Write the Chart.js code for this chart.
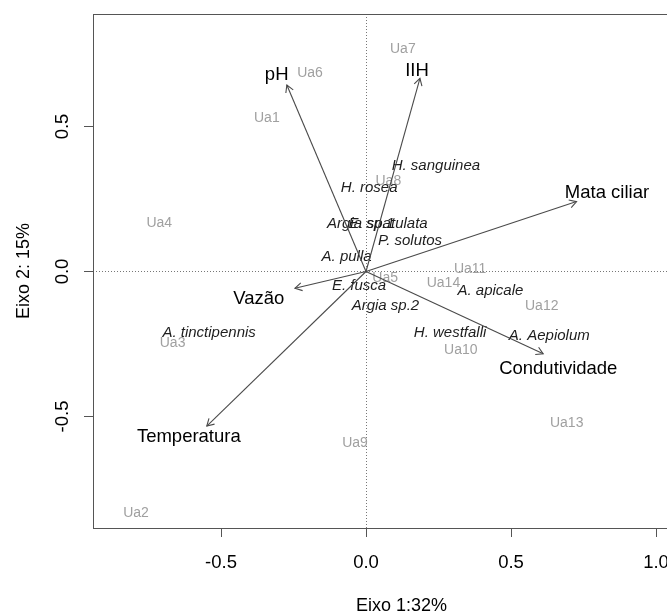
<!DOCTYPE html>
<html>
<head>
<meta charset="utf-8">
<script src="https://cdn.jsdelivr.net/npm/chart.js@4.4.1/dist/chart.umd.min.js"></script>
<style>
  html, body { margin: 0; padding: 0; overflow: hidden; background: #fff; }
</style>
</head>
<body>
<canvas id="rda" width="720" height="614"></canvas>
<script>
// Sites (Ua) scores
const siteLabels = ['Ua1', 'Ua2', 'Ua3', 'Ua4', 'Ua5', 'Ua6', 'Ua7', 'Ua8', 'Ua9', 'Ua10', 'Ua11', 'Ua12', 'Ua13', 'Ua14']
const siteX = [-0.342, -0.793, -0.667, -0.713, 0.066, -0.193, 0.127, 0.077, -0.038, 0.327, 0.359, 0.606, 0.692, 0.267]
const siteY = [0.528, -0.834, -0.248, 0.168, -0.023, 0.684, 0.767, 0.310, -0.592, -0.271, 0.008, -0.119, -0.523, -0.041]

// Species scores
const sppLabels = ['H. sanguinea', 'H. rosea', 'Argia sp.1', 'E. spatulata', 'P. solutos', 'A. pulla', 'E. fusca',
  'Argia sp.2', 'A. apicale', 'H. westfalli', 'A. Aepiolum', 'A. tinctipennis']
const sppX = [0.241, 0.011, -0.018, 0.076, 0.152, -0.067, -0.024, 0.067, 0.429, 0.290, 0.632, -0.541]
const sppY = [0.364, 0.287, 0.166, 0.163, 0.106, 0.051, -0.049, -0.119, -0.067, -0.210, -0.221, -0.212]

// Environmental vectors (arrow tips) and where their names sit
const envLabels = ['pH', 'IIH', 'Mata ciliar', 'Condutividade', 'Temperatura', 'Vazão']
const envX = [-0.273, 0.186, 0.726, 0.611, -0.549, -0.245]
const envY = [0.643, 0.666, 0.241, -0.284, -0.533, -0.058]
const envLabelX = [-0.308, 0.176, 0.831, 0.663, -0.611, -0.370]
const envLabelY = [0.678, 0.691, 0.270, -0.337, -0.572, -0.095]

const xTicks = [-0.5, 0, 0.5, 1]
const yTicks = [-0.5, 0, 0.5]

const FONT = '"Liberation Sans", Arial, sans-serif'

function pts (xs, ys) {
  return xs.map((x, i) => ({ x: x, y: ys[i] }))
}

function arrowHead (ctx, x0, y0, x1, y1) {
  const a = Math.atan2(y1 - y0, x1 - x0)
  const len = 8
  ctx.beginPath()
  ctx.moveTo(x1 - len * Math.cos(a - Math.PI / 6), y1 - len * Math.sin(a - Math.PI / 6))
  ctx.lineTo(x1, y1)
  ctx.lineTo(x1 - len * Math.cos(a + Math.PI / 6), y1 - len * Math.sin(a + Math.PI / 6))
  ctx.stroke()
}

// draws the text labels, arrows, box and axis text (R biplot look)
const biplot = {
  id: 'biplot',
  beforeDatasetsDraw (chart) {
    const { ctx, chartArea: a, scales: { x, y } } = chart
    ctx.save()
    ctx.strokeStyle = '#777'
    ctx.lineWidth = 1
    ctx.setLineDash([1, 2])
    const x0 = Math.round(x.getPixelForValue(0)) + 0.5
    const y0 = Math.round(y.getPixelForValue(0)) + 0.5
    ctx.beginPath()
    ctx.moveTo(x0, a.top)
    ctx.lineTo(x0, a.bottom)
    ctx.moveTo(a.left, y0)
    ctx.lineTo(a.right, y0)
    ctx.stroke()
    ctx.restore()
  },
  afterDatasetsDraw (chart) {
    const { ctx, scales: { x, y } } = chart
    ctx.save()
    ctx.textAlign = 'center'
    ctx.textBaseline = 'middle'

    // sites
    ctx.font = '14px ' + FONT
    ctx.fillStyle = '#a0a0a0'
    chart.getDatasetMeta(0).data.forEach((p, i) => ctx.fillText(siteLabels[i], p.x, p.y))

    // species
    ctx.font = 'italic 15px ' + FONT
    ctx.fillStyle = '#1e1e1e'
    chart.getDatasetMeta(1).data.forEach((p, i) => ctx.fillText(sppLabels[i], p.x, p.y))

    // arrows
    const ox = x.getPixelForValue(0)
    const oy = y.getPixelForValue(0)
    ctx.strokeStyle = '#4a4a4a'
    ctx.lineWidth = 1.1
    chart.getDatasetMeta(2).data.forEach(p => {
      ctx.beginPath()
      ctx.moveTo(ox, oy)
      ctx.lineTo(p.x, p.y)
      ctx.stroke()
      arrowHead(ctx, ox, oy, p.x, p.y)
    })

    // environmental names
    ctx.font = '18.5px ' + FONT
    ctx.fillStyle = '#000'
    chart.getDatasetMeta(3).data.forEach((p, i) => ctx.fillText(envLabels[i], p.x, p.y))
    ctx.restore()
  },
  afterDraw (chart) {
    const { ctx, chartArea: a, scales: { x, y } } = chart
    ctx.save()
    // box
    ctx.strokeStyle = '#555'
    ctx.lineWidth = 1
    ctx.strokeRect(a.left + 0.5, a.top + 0.5, a.right - a.left, a.bottom - a.top)

    ctx.fillStyle = '#000'
    ctx.font = '18.5px ' + FONT
    ctx.textAlign = 'center'
    ctx.textBaseline = 'middle'
    x.ticks.forEach(t => ctx.fillText(t.value.toFixed(1), x.getPixelForValue(t.value), 563))
    y.ticks.forEach(t => {
      ctx.save()
      ctx.translate(63, y.getPixelForValue(t.value))
      ctx.rotate(-Math.PI / 2)
      ctx.fillText(t.value.toFixed(1), 0, 0)
      ctx.restore()
    })

    // axis titles
    ctx.font = '18px ' + FONT
    ctx.fillText('Eixo 1:32%', (a.left + a.right) / 2, 606)
    ctx.save()
    ctx.translate(24, (a.top + a.bottom) / 2)
    ctx.rotate(-Math.PI / 2)
    ctx.fillText('Eixo 2: 15%', 0, 0)
    ctx.restore()
    ctx.restore()
  }
}

const hidden = { pointRadius: 0, pointHoverRadius: 0, showLine: false }

new Chart(document.getElementById('rda'), {
  type: 'scatter',
  plugins: [biplot],
  data: {
    datasets: [
      { label: 'Sites', data: pts(siteX, siteY), ...hidden },
      { label: 'Species', data: pts(sppX, sppY), ...hidden },
      { label: 'Env', data: pts(envX, envY), ...hidden },
      { label: 'Env names', data: pts(envLabelX, envLabelY), ...hidden }
    ]
  },
  options: {
    responsive: false,
    animation: false,
    events: [],
    layout: { padding: { top: 14, right: 10, left: 0, bottom: 0 } },
    plugins: { legend: { display: false }, tooltip: { enabled: false } },
    scales: {
      x: {
        type: 'linear',
        min: -0.9414,
        max: 1.1862,
        afterBuildTicks: s => { s.ticks = xTicks.map(v => ({ value: v })) },
        afterFit: s => { s.height = 86 },
        border: { display: false },
        grid: { display: true, drawOnChartArea: false, drawTicks: true, tickLength: 9, tickColor: '#555', color: '#555' },
        ticks: { color: 'rgba(0,0,0,0)' }
      },
      y: {
        type: 'linear',
        min: -0.8845,
        max: 0.8879,
        afterBuildTicks: s => { s.ticks = yTicks.map(v => ({ value: v })) },
        afterFit: s => { s.width = 93 },
        border: { display: false },
        grid: { display: true, drawOnChartArea: false, drawTicks: true, tickLength: 9, tickColor: '#555', color: '#555' },
        ticks: { color: 'rgba(0,0,0,0)' }
      }
    }
  }
})
</script>
</body>
</html>
